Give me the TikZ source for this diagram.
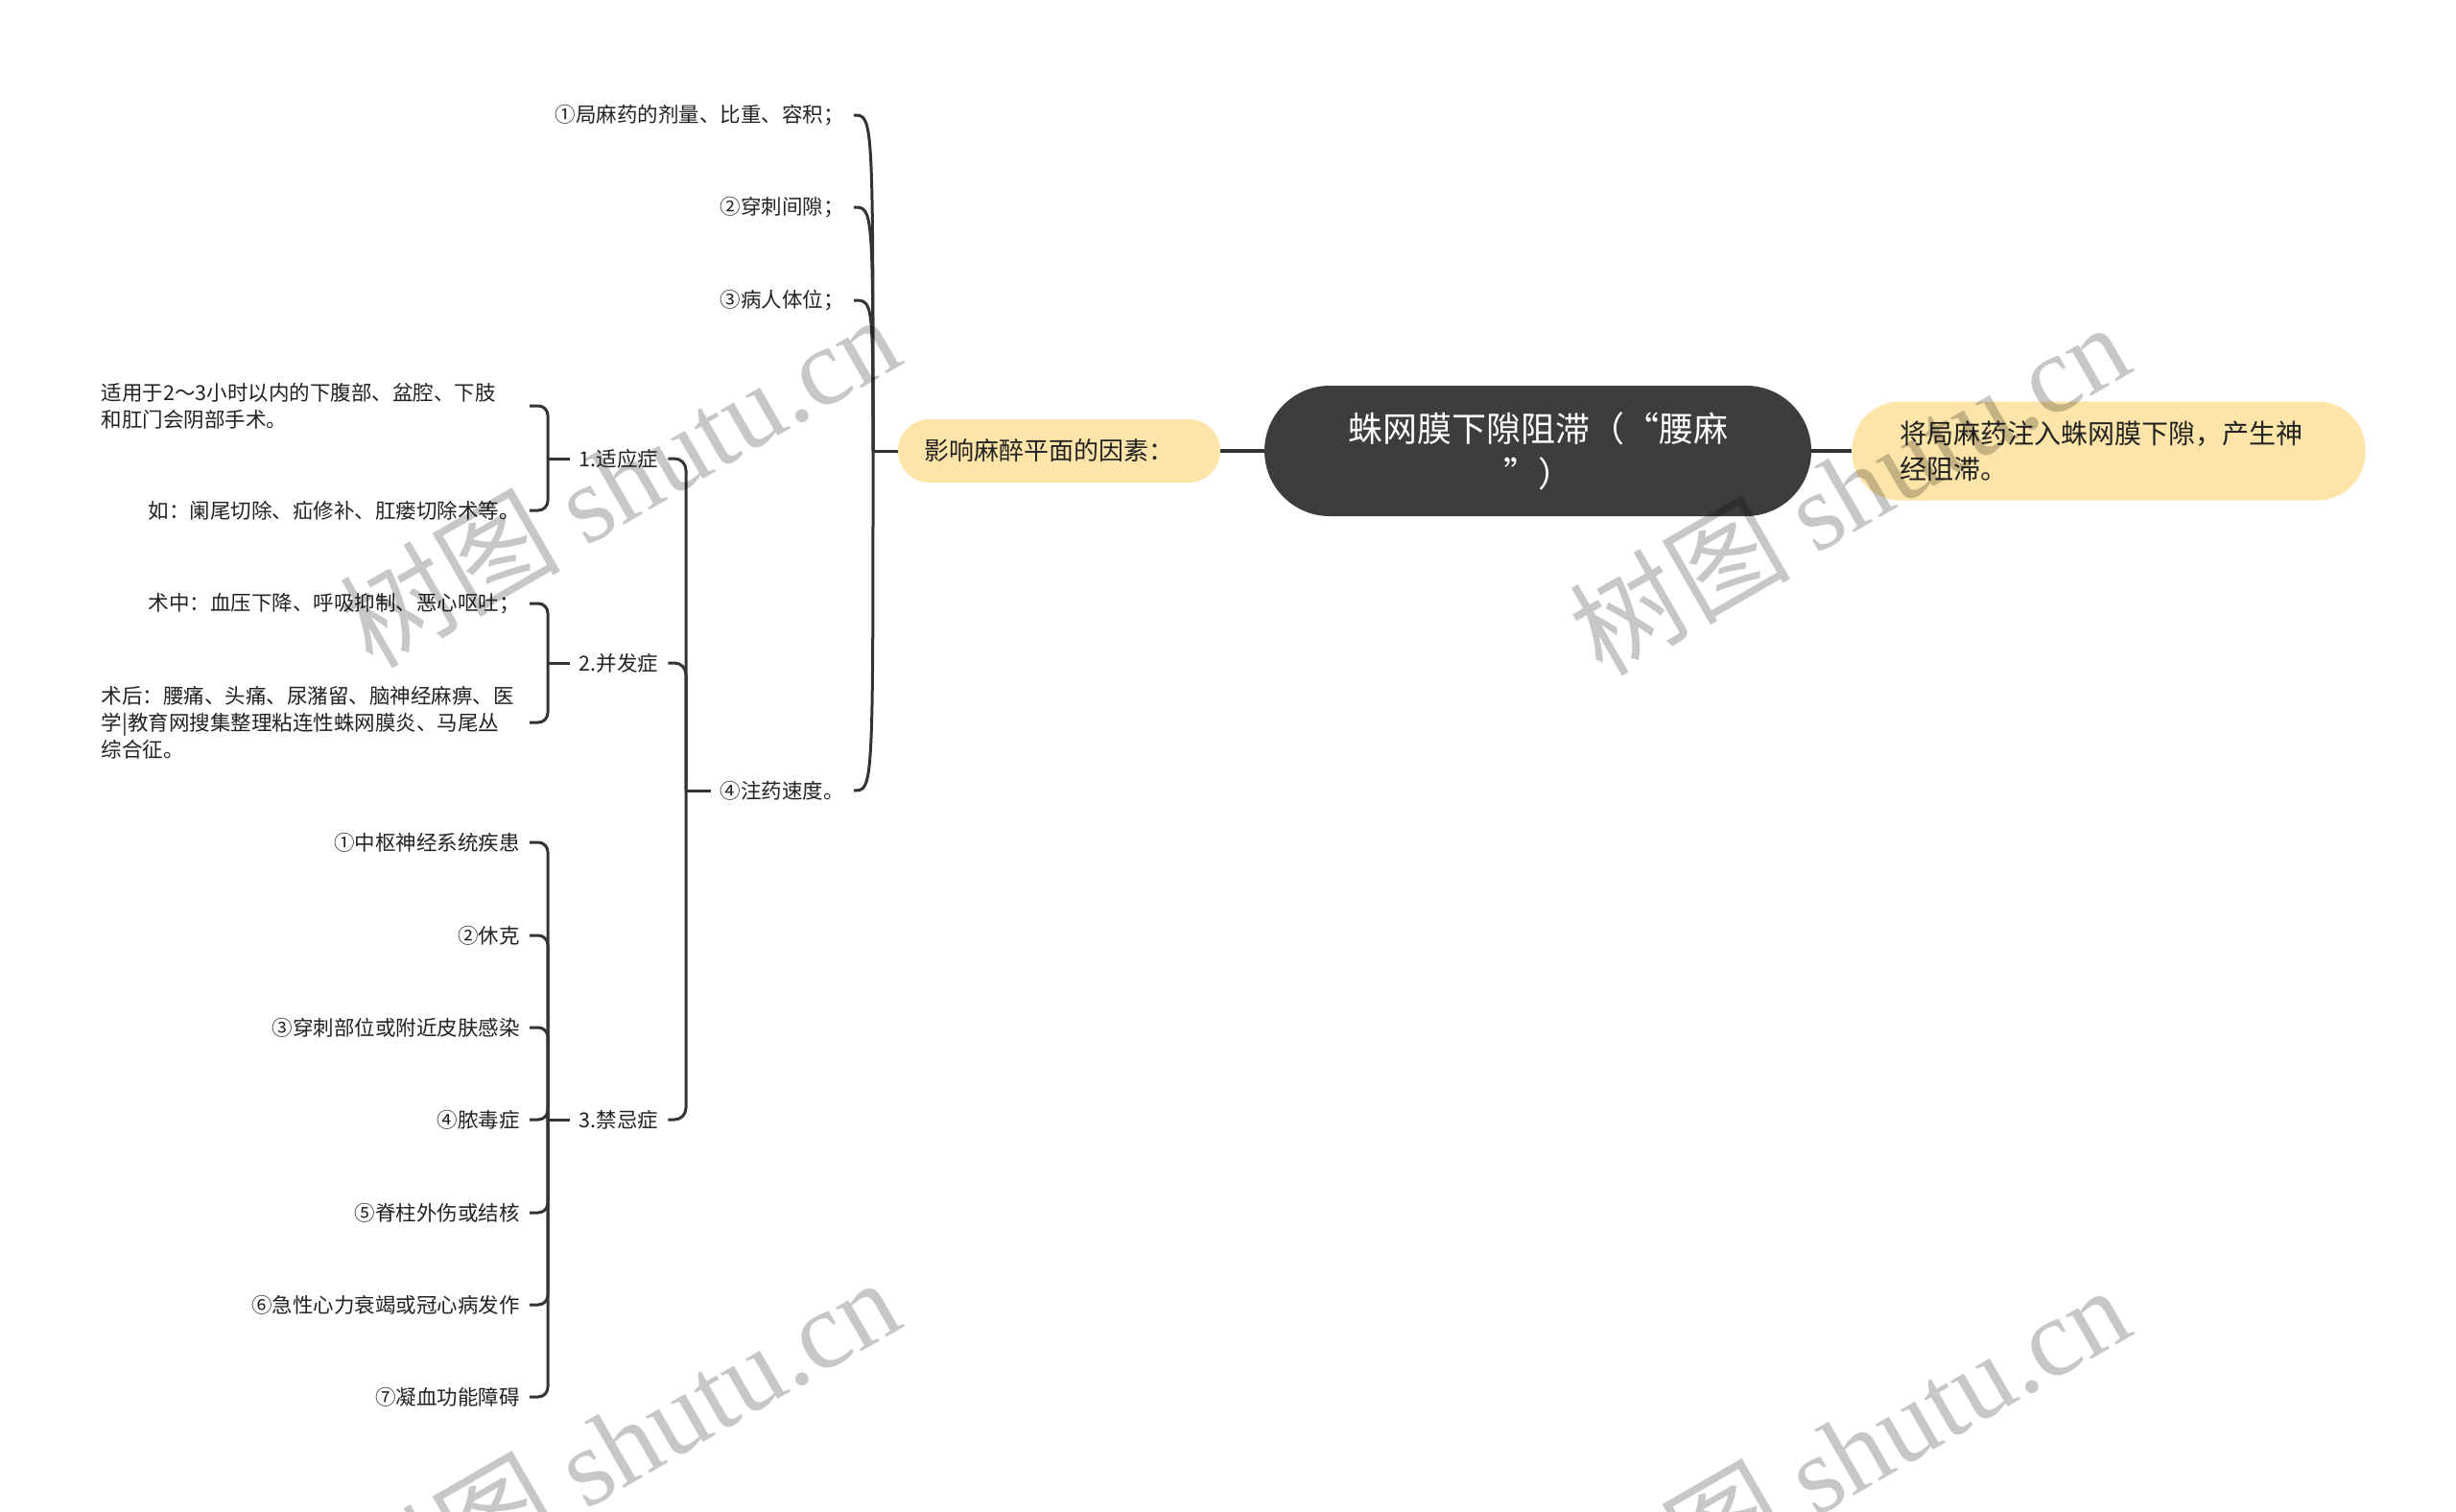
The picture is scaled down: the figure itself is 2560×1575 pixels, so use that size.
\documentclass[tikz,border=0pt]{standalone}
\usepackage{fontspec}
\setmainfont{Noto Sans CJK SC}
\newfontfamily\wmlatin{Liberation Serif}
\definecolor{rootfill}{HTML}{3D3D3D}
\definecolor{yel}{HTML}{FDE5A9}
\definecolor{ln}{HTML}{333333}
\definecolor{txt}{HTML}{222222}
\begin{document}
\begin{tikzpicture}[x=1pt,y=-1pt,
  conn/.style={draw=ln, line width=3pt},
  small/.style={font=\fontsize{21.5}{28}\selectfont, text=txt, inner xsep=10pt, inner ysep=2pt},
  leafr/.style={small, text width=436pt, align=right, anchor=east},
  leafl/.style={small, text width=436pt, align=left, anchor=east},
  factor/.style={small, anchor=east},
  mid/.style={small},
  wm/.style={rotate=30, text=black, opacity=0.22, font=\fontsize{115}{115}\selectfont, inner sep=0pt}
]
\fill[white] (0,0) rectangle (2560,1575);
\useasboundingbox (0,0) rectangle (2560,1575);

% main nodes
\node[fill=rootfill, rounded corners=68pt, minimum width=570pt, minimum height=136pt,
      text=white, font=\fontsize{36}{47}\selectfont, align=center, inner sep=0pt] (root) at (1603,470)
      {蛛网膜下隙阻滞（“腰麻\\”）};
\node[fill=yel, rounded corners=33pt, minimum width=336pt, minimum height=66pt,
      text=txt, font=\fontsize{26}{32}\selectfont, text width=282pt, align=left, inner sep=0pt] (inf) at (1104,470)
      {影响麻醉平面的因素：};
\node[fill=yel, rounded corners=50pt, minimum width=535pt, minimum height=103pt,
      text=txt, font=\fontsize{28}{37}\selectfont, text width=436pt, align=left, inner sep=0pt] (def) at (2198,470)
      {将局麻药注入蛛网膜下隙，产生神\\经阻滞。};

\draw[conn, line width=3.5pt] (root.west) -- (inf.east);
\draw[conn, line width=3.5pt] (root.east) -- (def.west);

% factors
\node[factor] (a1) at (890,120) {①局麻药的剂量、比重、容积；};
\node[factor] (a2) at (890,216) {②穿刺间隙；};
\node[factor] (a3) at (890,313) {③病人体位；};
\node[factor] (a4) at (890,824) {④注药速度。};

\coordinate (j1) at (910,470);
\draw[conn] (inf.west) -- (j1);
\foreach \n in {a1,a2,a3,a4}{
  \draw[conn] (j1) .. controls (j1 |- \n.east) .. (\n.east);
}

% second level
\node[mid] (b1) at (645,478) {1.适应症};
\node[mid] (b2) at (645,691) {2.并发症};
\node[mid] (b3) at (645,1167) {3.禁忌症};

\coordinate (j2) at (715,824);
\draw[conn] (a4.west) -- (j2);
\foreach \n in {b1,b2,b3}{
  \draw[conn, rounded corners=12pt] (j2) |- (\n.east);
}

% leaves
\node[leafl] (c1) at (552,423) {适用于2～3小时以内的下腹部、盆腔、下肢\\和肛门会阴部手术。};
\node[leafr] (c2) at (552,532) {如：阑尾切除、疝修补、肛瘘切除术等。};

\node[leafr] (d1) at (552,629) {术中：血压下降、呼吸抑制、恶心呕吐；};
\node[leafl] (d2) at (552,753) {术后：腰痛、头痛、尿潴留、脑神经麻痹、医\\学|教育网搜集整理粘连性蛛网膜炎、马尾丛\\综合征。};

\node[leafr] (e1) at (552,878) {①中枢神经系统疾患};
\node[leafr] (e2) at (552,975) {②休克};
\node[leafr] (e3) at (552,1071) {③穿刺部位或附近皮肤感染};
\node[leafr] (e4) at (552,1167) {④脓毒症};
\node[leafr] (e5) at (552,1264) {⑤脊柱外伤或结核};
\node[leafr] (e6) at (552,1360) {⑥急性心力衰竭或冠心病发作};
\node[leafr] (e7) at (552,1456) {⑦凝血功能障碍};

\coordinate (kx) at (571,0);
\coordinate (k1) at (b1.west -| kx);
\coordinate (k2) at (b2.west -| kx);
\coordinate (k3) at (b3.west -| kx);
\draw[conn] (b1.west) -- (k1);
\draw[conn] (b2.west) -- (k2);
\draw[conn] (b3.west) -- (k3);
\foreach \n in {c1,c2}{\draw[conn, rounded corners=10pt] (k1) |- (\n.east);}
\foreach \n in {d1,d2}{\draw[conn, rounded corners=10pt] (k2) |- (\n.east);}
\foreach \n in {e1,e2,e3,e4,e5,e6,e7}{\draw[conn, rounded corners=10pt] (k3) |- (\n.east);}

% watermarks
\node[wm] (wm1) at (645,500) {树图 {\wmlatin shutu.cn}};
\node[wm] (wm2) at (1927,508) {树图 {\wmlatin shutu.cn}};
\node[wm] (wm3) at (645,1504) {树图 {\wmlatin shutu.cn}};
\node[wm] (wm4) at (1927,1512) {树图 {\wmlatin shutu.cn}};
\end{tikzpicture}
\end{document}
